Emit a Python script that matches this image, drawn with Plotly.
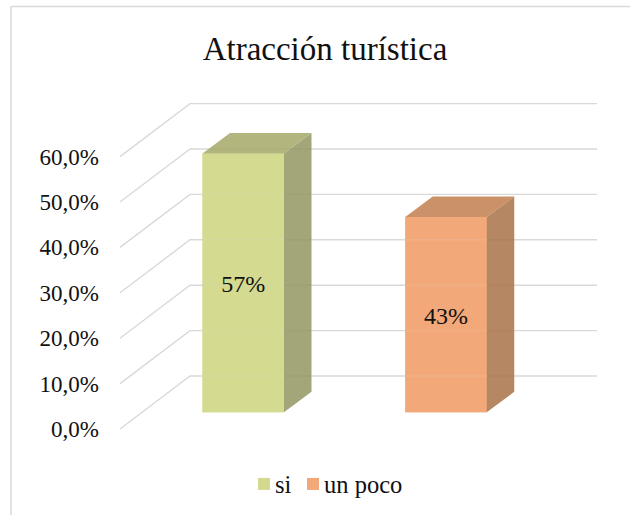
import plotly.graph_objects as go

# --- data ---
title = "Atracción turística"
categories = ["si", "un poco"]
values = [57.0, 43.0]
labels = ["57%", "43%"]
tick_vals = [0, 10, 20, 30, 40, 50, 60]
tick_text = ["0,0%", "10,0%", "20,0%", "30,0%", "40,0%", "50,0%", "60,0%"]

# --- styles ---
front = ["rgb(211,217,143)", "rgb(242,168,120)"]
front_veil = ["rgba(211,217,143,0.85)", "rgba(242,168,120,0.85)"]
side = ["rgba(147,150,96,0.85)", "rgba(168,115,72,0.85)"]
top = ["rgba(166,168,103,0.85)", "rgba(194,126,77,0.85)"]
GRID = "#D9D9D9"
FONT = "Liberation Serif, Times New Roman, serif"

# --- layout geometry (x axis is in pixels of the page, y axis in percent) ---
W, H = 630, 515
ML = 100
PX_PER_UNIT = 4.54
Y0_PX = 429.0
y_low = (Y0_PX - H) / PX_PER_UNIT
y_high = Y0_PX / PX_PER_UNIT
grid_x = [120, 190, 597]
floor_depth = 53 / PX_PER_UNIT
bar_centers = [243.25, 446.0]
bar_width = 81.5
bar_base = 16.7 / PX_PER_UNIT
dx, dy = 27.5, 20.6 / PX_PER_UNIT
label_drop = 3 / PX_PER_UNIT

fig = go.Figure()

# bars: front faces and legend entries
for i, cat in enumerate(categories):
    fig.add_trace(go.Bar(
        x=[bar_centers[i]], y=[values[i]], base=[bar_base], width=[bar_width],
        name=cat, marker=dict(color=front[i], line=dict(width=0)),
        showlegend=True, hoverinfo="skip"))

# oblique gridlines
for v in tick_vals:
    fig.add_trace(go.Scatter(
        x=grid_x, y=[v, v + floor_depth, v + floor_depth], mode="lines",
        line=dict(color=GRID, width=1.4), showlegend=False, hoverinfo="skip"))

# translucent faces, so gridlines show through faintly
for i in range(len(categories)):
    xl = bar_centers[i] - bar_width / 2
    xr = bar_centers[i] + bar_width / 2
    b = bar_base
    t = bar_base + values[i]
    fig.add_trace(go.Scatter(
        x=[xl, xr, xr, xl, xl], y=[b, b, t, t, b], mode="none", fill="toself",
        fillcolor=front_veil[i], showlegend=False, hoverinfo="skip"))
    fig.add_trace(go.Scatter(
        x=[xr, xr + dx, xr + dx, xr, xr], y=[b, b + dy, t + dy, t, b],
        mode="none", fill="toself", fillcolor=side[i], showlegend=False, hoverinfo="skip"))
    fig.add_trace(go.Scatter(
        x=[xl, xr, xr + dx, xl + dx, xl], y=[t, t, t + dy, t + dy, t],
        mode="none", fill="toself", fillcolor=top[i], showlegend=False, hoverinfo="skip"))

# data labels
fig.add_trace(go.Scatter(
    x=bar_centers, y=[bar_base + v / 2 - label_drop for v in values], mode="text", text=labels,
    textposition="middle center", textfont=dict(family=FONT, size=24, color="#111111"),
    showlegend=False, hoverinfo="skip"))

fig.update_layout(
    width=W, height=H, autosize=False,
    margin=dict(l=ML, r=0, t=0, b=0),
    paper_bgcolor="white", plot_bgcolor="white",
    font=dict(family=FONT, color="#111111"),
    title=dict(text=title, x=325 / W, xanchor="center", y=1 - 48 / H, yanchor="middle",
               font=dict(family=FONT, size=33, color="#111111")),
    xaxis=dict(range=[ML, W], visible=False, fixedrange=True),
    yaxis=dict(range=[y_low, y_high], tickmode="array", tickvals=tick_vals, ticktext=tick_text,
               showgrid=False, zeroline=False, showline=False, ticks="", ticklen=0,
               tickfont=dict(family=FONT, size=23, color="#111111"), fixedrange=True),
    legend=dict(orientation="h", x=(244 - ML) / (W - ML), xanchor="left",
                y=1 - 484 / H, yanchor="middle", font=dict(family=FONT, size=24.5, color="#111111"),
                entrywidth=4, entrywidthmode="pixels",
                bgcolor="rgba(0,0,0,0)", traceorder="normal"),
    shapes=[
        dict(type="line", xref="paper", yref="paper",
             x0=(11 - ML) / (W - ML), x1=1, y0=1 - 6.5 / H, y1=1 - 6.5 / H,
             line=dict(color=GRID, width=1.5)),
        dict(type="line", xref="paper", yref="paper",
             x0=(11 - ML) / (W - ML), x1=(11 - ML) / (W - ML), y0=1 - 6.5 / H, y1=0,
             line=dict(color=GRID, width=1.5)),
    ],
)

post = """
document.body.style.margin = '0';
function tightenLegend() {
  document.querySelectorAll('.legendtext').forEach(function (t) { t.setAttribute('x', '31'); });
  document.querySelectorAll('.legend .scrollbox').forEach(function (s) { s.removeAttribute('clip-path'); s.style.clipPath = 'none'; });
  document.querySelectorAll('.legend').forEach(function (l) { l.style.overflow = 'visible'; });
}
tightenLegend();
setTimeout(tightenLegend, 0);
setTimeout(tightenLegend, 200);
"""
fig.write_html("out.html", config=dict(displayModeBar=False), post_script=post)
